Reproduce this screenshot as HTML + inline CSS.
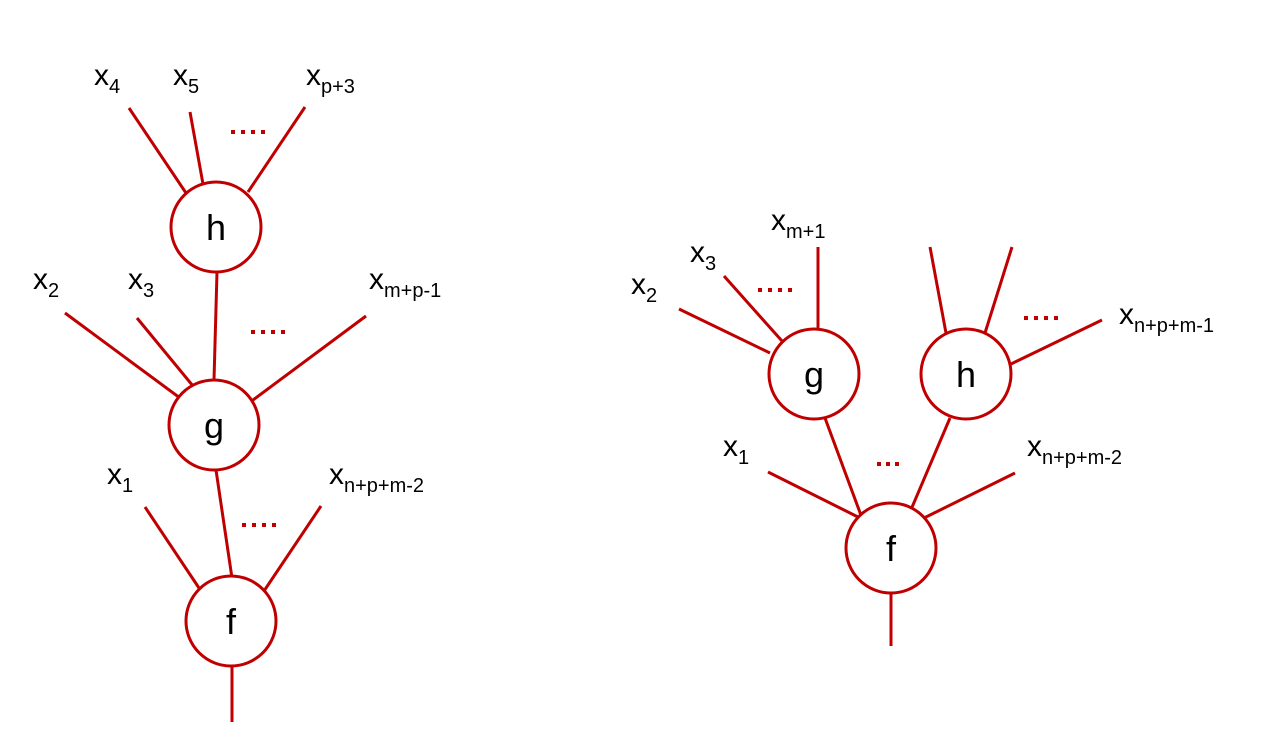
<!DOCTYPE html>
<html><head><style>
html,body{margin:0;padding:0;background:#fff;}
svg{display:block;}
text{font-family:"Liberation Sans",sans-serif;fill:#000;}
.l{stroke:#c00000;stroke-width:3;fill:none;}
.c{stroke:#c00000;stroke-width:3;fill:#fff;}
.x{font-size:30px;}
.s{font-size:20px;}
.n{font-size:36px;text-anchor:middle;}
.d{fill:#c00000;}
</style></head><body>
<svg width="1269" height="755" viewBox="0 0 1269 755" xmlns="http://www.w3.org/2000/svg">
<defs>
<g id="dots"><rect x="0" y="0" width="4" height="4"/><rect x="10" y="0" width="4" height="4"/><rect x="20" y="0" width="4" height="4"/><rect x="30" y="0" width="4" height="4"/></g>
<g id="dots3"><rect x="0" y="0" width="4" height="4"/><rect x="9" y="0" width="4" height="4"/><rect x="18" y="0" width="4" height="4"/></g>
</defs>
<line class="l" x1="129" y1="108" x2="186" y2="193"/>
<line class="l" x1="190" y1="112" x2="203" y2="184"/>
<line class="l" x1="305" y1="107" x2="248" y2="192"/>
<line class="l" x1="217" y1="272" x2="214" y2="380"/>
<line class="l" x1="65" y1="313" x2="180" y2="398"/>
<line class="l" x1="137" y1="318" x2="193" y2="386"/>
<line class="l" x1="366" y1="316" x2="253" y2="400"/>
<line class="l" x1="216" y1="470" x2="232" y2="578"/>
<line class="l" x1="145" y1="507" x2="201" y2="591"/>
<line class="l" x1="321" y1="506" x2="264" y2="591"/>
<line class="l" x1="232" y1="666" x2="232" y2="722"/>
<circle class="c" cx="216" cy="227" r="45"/>
<circle class="c" cx="214" cy="425" r="45"/>
<circle class="c" cx="231" cy="621" r="45"/>
<text class="n" x="216" y="240">h</text>
<text class="n" x="214" y="438">g</text>
<text class="n" x="231" y="634">f</text>
<g class="d" transform="translate(231,130)"><use href="#dots"/></g>
<g class="d" transform="translate(251,330)"><use href="#dots"/></g>
<g class="d" transform="translate(242,523)"><use href="#dots"/></g>
<text class="x" x="94" y="85">x<tspan class="s" dy="8">4</tspan></text>
<text class="x" x="173" y="85">x<tspan class="s" dy="8">5</tspan></text>
<text class="x" x="306" y="85">x<tspan class="s" dy="8">p+3</tspan></text>
<text class="x" x="33" y="289">x<tspan class="s" dy="8">2</tspan></text>
<text class="x" x="128" y="289">x<tspan class="s" dy="8">3</tspan></text>
<text class="x" x="369" y="289">x<tspan class="s" dy="8">m+p-1</tspan></text>
<text class="x" x="107" y="484">x<tspan class="s" dy="8">1</tspan></text>
<text class="x" x="329" y="484">x<tspan class="s" dy="8">n+p+m-2</tspan></text>
<line class="l" x1="679" y1="309" x2="770" y2="353"/>
<line class="l" x1="724" y1="276" x2="782" y2="341"/>
<line class="l" x1="818" y1="247" x2="818" y2="329"/>
<line class="l" x1="930" y1="247" x2="946" y2="333"/>
<line class="l" x1="1012" y1="247" x2="985" y2="333"/>
<line class="l" x1="1102" y1="320" x2="1011" y2="364"/>
<line class="l" x1="825" y1="418" x2="862" y2="518"/>
<line class="l" x1="950" y1="418" x2="910" y2="512"/>
<line class="l" x1="768" y1="472" x2="860" y2="518"/>
<line class="l" x1="1015" y1="473" x2="924" y2="518"/>
<line class="l" x1="891" y1="593" x2="891" y2="646"/>
<circle class="c" cx="814" cy="374" r="45"/>
<circle class="c" cx="966" cy="374" r="45"/>
<circle class="c" cx="891" cy="548" r="45"/>
<text class="n" x="814" y="387">g</text>
<text class="n" x="966" y="387">h</text>
<text class="n" x="891" y="561">f</text>
<g class="d" transform="translate(758,288)"><use href="#dots"/></g>
<g class="d" transform="translate(1024,316)"><use href="#dots"/></g>
<g class="d" transform="translate(877,462)"><use href="#dots3"/></g>
<text class="x" x="631" y="294">x<tspan class="s" dy="8">2</tspan></text>
<text class="x" x="690" y="262">x<tspan class="s" dy="8">3</tspan></text>
<text class="x" x="771" y="230">x<tspan class="s" dy="8">m+1</tspan></text>
<text class="x" x="1119" y="324">x<tspan class="s" dy="8">n+p+m-1</tspan></text>
<text class="x" x="723" y="456">x<tspan class="s" dy="8">1</tspan></text>
<text class="x" x="1027" y="456">x<tspan class="s" dy="8">n+p+m-2</tspan></text>
</svg>
</body></html>
